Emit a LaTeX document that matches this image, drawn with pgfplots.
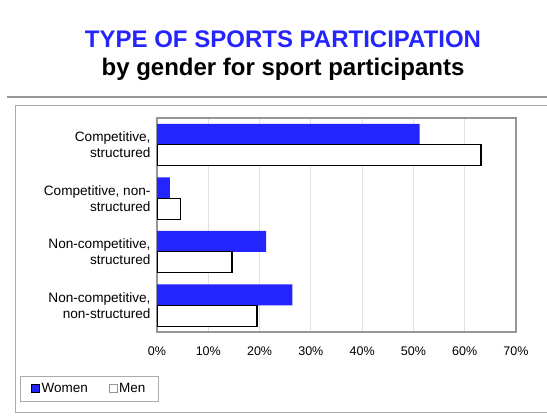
\documentclass[border=0pt]{standalone}
\usepackage{pgfplots}
\pgfplotsset{compat=1.18}
\usepackage{pgfplotstable}
\usepackage{fontspec}
\setmainfont{Liberation Sans}
\definecolor{wblue}{RGB}{36,36,255}
\definecolor{framegray}{RGB}{150,150,150}
\definecolor{gridgray}{RGB}{225,225,225}

% women, men (percent)
\pgfplotstableread{
y women men
0 51.2 63.2
1 2.5  4.6
2 21.3 14.6
3 26.4 19.5
}\sportsdata

\begin{document}
\begin{tikzpicture}
\begin{scope}[x=1bp,y=1bp]
\node[anchor=base, font=\fontsize{24bp}{28bp}\selectfont\bfseries, text=wblue] at (283,-47) {TYPE OF SPORTS PARTICIPATION};
\node[anchor=base, font=\fontsize{24bp}{28bp}\selectfont\bfseries] at (283,-75) {by gender for sport participants};
\draw[framegray, line width=1.4bp] (7,-97) -- (560,-97);
\draw[framegray!80, line width=0.9bp] (560,-105) -- (15,-105) -- (15,-412) -- (560,-412);
\end{scope}
\begin{axis}[
    at={(157bp,-332bp)}, anchor=south west,
    scale only axis, width=359bp, height=214bp,
    xbar, bar width=21bp,
    xmin=0, xmax=70,
    ymin=-0.5, ymax=3.5, y dir=reverse,
    ytick={0,1,2,3},
    yticklabels={{Competitive,\\structured},{Competitive, non-\\structured},{Non-competitive,\\structured},{Non-competitive,\\non-structured}},
    yticklabel style={align=right, font=\fontsize{13.6bp}{16bp}\selectfont, xshift=-3bp},
    xtick={0,10,...,70},
    xticklabel={\pgfmathprintnumber{\tick}\%},
    xticklabel style={font=\fontsize{12.5bp}{14bp}\selectfont, yshift=-11bp, /pgf/number format/assume math mode=true},
    major tick length=0pt,
    xmajorgrids, grid style={gridgray, line width=0.8bp},
    axis line style={framegray, line width=1.5bp},
    legend columns=2,
    legend style={at={(-0.3816,-0.2056)}, anchor=north west, draw=framegray!80, line width=0.8bp,
        font=\fontsize{13.5bp}{15bp}\selectfont, inner xsep=11bp, inner ysep=5bp,
        /tikz/every odd column/.append style={column sep=-0.5bp},
        /tikz/every even column/.append style={column sep=19bp}},
    legend image code/.code={\draw[#1] (0bp,-4bp) rectangle (8bp,4bp);},
]
\addplot[fill=wblue, draw=none, bar shift=10.5bp] table[x=women, y=y] {\sportsdata};
\addlegendentry{Women}
\addplot[fill=white, draw=black, line width=1.3bp, bar shift=-10.5bp,
    legend image post style={draw=framegray, line width=0.6bp}] table[x=men, y=y] {\sportsdata};
\addlegendentry{Men}
\end{axis}
\pgfresetboundingbox
\useasboundingbox (0,0) rectangle (547bp,-416bp);
\end{tikzpicture}
\end{document}
